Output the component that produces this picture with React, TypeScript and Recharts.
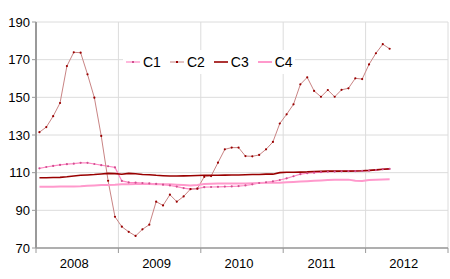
import { LineChart, Line, XAxis, YAxis, CartesianGrid } from "recharts";

// Monthly values, Jan 2008 .. Apr 2012 (52 months)
const C1 = [
  112.3, 113.0, 113.6, 114.1, 114.5, 114.8, 115.2, 115.2, 114.6, 114.0, 113.4, 112.8,
  105.6, 104.8, 104.7, 104.5, 104.3, 104.0, 103.6, 103.2, 102.6, 101.8, 101.3, 101.5,
  102.3, 102.4, 102.5, 102.6, 102.7, 102.9, 103.2, 103.8, 104.5, 104.9, 105.4, 106.1,
  107.0, 108.1, 109.2, 109.7, 110.0, 110.3, 110.5, 110.6, 110.7, 110.8, 110.8, 110.9,
  111.1, 111.4, 111.8, 112.0,
];
const C2 = [
  131.5, 134.2, 140.0, 147.0, 166.6, 173.9, 173.7, 162.2, 149.8, 129.5, 105.7, 86.6,
  81.3, 78.6, 76.4, 79.9, 82.4, 94.6, 92.6, 98.3, 94.6, 97.4, 101.3, 101.5,
  107.8, 108.2, 115.3, 122.4, 123.3, 123.3, 118.8, 118.7, 119.4, 122.4, 126.3, 136.1,
  141.0, 146.3, 156.9, 160.6, 153.4, 150.3, 153.9, 150.3, 154.0, 154.8, 160.1, 159.7,
  167.5, 173.4, 178.2, 175.8,
];
const C3 = [
  107.3, 107.3, 107.4, 107.5, 107.8, 108.2, 108.6, 108.8, 109.0, 109.3, 109.6, 109.5,
  109.2, 109.6, 109.4, 109.0, 108.9, 108.6, 108.4, 108.2, 108.2, 108.3, 108.4, 108.5,
  108.6, 108.6, 108.6, 108.7, 108.8, 108.8, 108.9, 109.0, 109.0, 109.2, 109.2, 110.0,
  110.2, 110.2, 110.3, 110.4, 110.6, 110.7, 110.8, 110.8, 110.8, 110.8, 110.9, 111.0,
  111.2, 111.5, 111.8, 112.0,
];
const C4 = [
  102.5, 102.5, 102.5, 102.6, 102.6, 102.7, 102.8, 103.0, 103.2, 103.4, 103.5, 103.6,
  103.8, 103.9, 104.0, 104.0, 104.0, 103.9, 103.9, 103.8, 103.6, 103.4, 103.2, 103.5,
  104.0, 104.1, 104.2, 104.3, 104.3, 104.3, 104.3, 104.4, 104.5, 104.6, 104.7, 104.7,
  104.9, 105.1, 105.3, 105.5, 105.7, 105.9, 106.1, 106.2, 106.3, 106.3, 105.7, 105.6,
  106.1, 106.3, 106.4, 106.5,
];

const YEARS = ["2008", "2009", "2010", "2011", "2012"];
const Y_TICKS = [70, 90, 110, 130, 150, 170, 190];
const X_TICKS = [0, 12, 24, 36, 48, 60];

const FONT = "'Liberation Sans', Arial, sans-serif";

const data = C2.map((_, i) => ({
  x: i + 0.5,
  C1: C1[i],
  C2: C2[i],
  C3: C3[i],
  C4: C4[i],
}));

const SERIES = [
  { key: "C1", stroke: "#ff88c4", width: 1.2, dot: "#d05090" },
  { key: "C2", stroke: "#c98484", width: 1, dot: "#9a0000" },
  { key: "C3", stroke: "#990000", width: 1.6, dot: null },
  { key: "C4", stroke: "#ff99cc", width: 2, dot: null },
];

const YearTick = (props: any) => {
  const { x, y, payload } = props;
  const idx = X_TICKS.indexOf(payload.value);
  if (idx < 0 || idx >= YEARS.length) return null;
  const half = 412 / YEARS.length / 2;
  return (
    <text x={x + half - 3} y={y + 13} textAnchor="middle" fontSize={13} fontFamily={FONT} fill="#000">
      {YEARS[idx]}
    </text>
  );
};

// legend drawn as an overlay so it does not eat plot space
const LegendBox = () => (
  <div
    style={{
      position: "absolute",
      left: 123,
      top: 50,
      background: "#fff",
      display: "flex",
      alignItems: "center",
      padding: "4px 2px 4px 3px",
      fontFamily: FONT,
      fontSize: 14,
      color: "#000",
    }}
  >
    {SERIES.map((s, i) => (
      <div key={s.key} style={{ display: "flex", alignItems: "center", marginRight: i < 3 ? 9 : 0 }}>
        <svg width={14} height={6} style={{ marginRight: 3 }}>
          <line x1={0} y1={3} x2={14} y2={3} stroke={s.stroke} strokeWidth={s.width} />
          {s.dot && <rect x={6} y={2} width={2} height={2} fill={s.dot} />}
        </svg>
        <span>{s.key}</span>
      </div>
    ))}
  </div>
);

export default function App() {
  return (
    <div style={{ position: "absolute", left: 0, top: 0, width: 450, height: 279, background: "#fff" }}>
      <LineChart width={450} height={279} data={data} margin={{ top: 22, right: 2, bottom: 0, left: 0 }}>
        <CartesianGrid stroke="#dcdcdc" strokeWidth={1} />
        <XAxis
          type="number"
          dataKey="x"
          domain={[0, 60]}
          ticks={X_TICKS}
          interval={0}
          height={31}
          axisLine={{ stroke: "#9a9a9a", strokeWidth: 1.5 }}
          tickLine={{ stroke: "#9a9a9a" }}
          tickSize={5}
          tick={<YearTick />}
        />
        <YAxis
          domain={[70, 190]}
          ticks={Y_TICKS}
          interval={0}
          width={36}
          axisLine={{ stroke: "#9a9a9a", strokeWidth: 2 }}
          tickLine={{ stroke: "#9a9a9a" }}
          tickSize={4}
          tick={{ fontSize: 13, fontFamily: FONT, fill: "#000" }}
        />
        {SERIES.map((s) => (
          <Line
            key={s.key}
            type="linear"
            dataKey={s.key}
            stroke={s.stroke}
            strokeWidth={s.width}
            dot={s.dot ? { r: 1.1, fill: s.dot, stroke: "none" } : false}
            activeDot={false}
            isAnimationActive={false}
          />
        ))}
      </LineChart>
      <LegendBox />
    </div>
  );
}
